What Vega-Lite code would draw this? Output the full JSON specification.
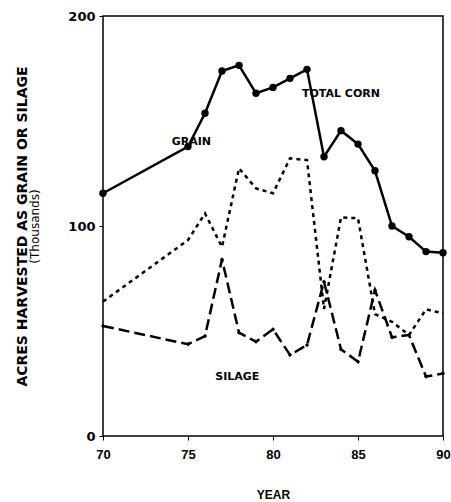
{
  "$schema": "https://vega.github.io/schema/vega-lite/v6.json",
  "autosize": "none",
  "width": 340,
  "height": 420,
  "padding": {"left": 103, "top": 16, "right": 8, "bottom": 66},
  "background": "white",
  "config": {
    "view": {"stroke": "black", "strokeWidth": 1.5},
    "font": "DejaVu Sans",
    "axis": {"grid": false, "domain": false, "tickColor": "black", "labelColor": "black", "titleColor": "black"}
  },
  "datasets": {
    "series": [
      {"year": 70, "value": 115.6, "series": "Total corn"},
      {"year": 75, "value": 137.8, "series": "Total corn"},
      {"year": 76, "value": 153.7, "series": "Total corn"},
      {"year": 77, "value": 173.8, "series": "Total corn"},
      {"year": 78, "value": 176.5, "series": "Total corn"},
      {"year": 79, "value": 163.2, "series": "Total corn"},
      {"year": 80, "value": 166.0, "series": "Total corn"},
      {"year": 81, "value": 170.3, "series": "Total corn"},
      {"year": 82, "value": 174.6, "series": "Total corn"},
      {"year": 83, "value": 133.0, "series": "Total corn"},
      {"year": 84, "value": 145.4, "series": "Total corn"},
      {"year": 85, "value": 139.0, "series": "Total corn"},
      {"year": 86, "value": 126.3, "series": "Total corn"},
      {"year": 87, "value": 100.0, "series": "Total corn"},
      {"year": 88, "value": 94.9, "series": "Total corn"},
      {"year": 89, "value": 87.8, "series": "Total corn"},
      {"year": 90, "value": 87.3, "series": "Total corn"},
      {"year": 70, "value": 64.0, "series": "Grain"},
      {"year": 75, "value": 93.3, "series": "Grain"},
      {"year": 76, "value": 106.0, "series": "Grain"},
      {"year": 77, "value": 90.0, "series": "Grain"},
      {"year": 78, "value": 127.5, "series": "Grain"},
      {"year": 79, "value": 117.9, "series": "Grain"},
      {"year": 80, "value": 115.6, "series": "Grain"},
      {"year": 81, "value": 132.2, "series": "Grain"},
      {"year": 82, "value": 131.4, "series": "Grain"},
      {"year": 83, "value": 60.5, "series": "Grain"},
      {"year": 84, "value": 104.1, "series": "Grain"},
      {"year": 85, "value": 103.7, "series": "Grain"},
      {"year": 86, "value": 58.0, "series": "Grain"},
      {"year": 87, "value": 54.4, "series": "Grain"},
      {"year": 88, "value": 48.1, "series": "Grain"},
      {"year": 89, "value": 60.3, "series": "Grain"},
      {"year": 90, "value": 58.4, "series": "Grain"},
      {"year": 70, "value": 52.4, "series": "Silage"},
      {"year": 75, "value": 43.7, "series": "Silage"},
      {"year": 76, "value": 47.6, "series": "Silage"},
      {"year": 77, "value": 84.1, "series": "Silage"},
      {"year": 78, "value": 49.2, "series": "Silage"},
      {"year": 79, "value": 44.9, "series": "Silage"},
      {"year": 80, "value": 50.8, "series": "Silage"},
      {"year": 81, "value": 38.6, "series": "Silage"},
      {"year": 82, "value": 43.3, "series": "Silage"},
      {"year": 83, "value": 73.5, "series": "Silage"},
      {"year": 84, "value": 41.3, "series": "Silage"},
      {"year": 85, "value": 35.4, "series": "Silage"},
      {"year": 86, "value": 69.5, "series": "Silage"},
      {"year": 87, "value": 47.0, "series": "Silage"},
      {"year": 88, "value": 48.1, "series": "Silage"},
      {"year": 89, "value": 28.3, "series": "Silage"},
      {"year": 90, "value": 29.8, "series": "Silage"}
    ],
    "labels": [
      {"year": 75.2, "value": 140, "text": "GRAIN"},
      {"year": 84.0, "value": 163, "text": "TOTAL CORN"},
      {"year": 77.9, "value": 28, "text": "SILAGE"}
    ]
  },
  "resolve": {"axis": {"y": "independent"}},
  "layer": [
    {
      "data": {"name": "series"},
      "transform": [{"filter": "datum.series === 'Grain'"}],
      "mark": {"type": "line", "color": "black", "strokeWidth": 2.5, "strokeDash": [4, 4]},
      "encoding": {
        "x": {"field": "year", "type": "quantitative", "scale": {"domain": [70, 90]},
          "axis": {"values": [70, 75, 80, 85, 90], "title": "YEAR", "labelFont": "Liberation Sans", "labelFontSize": 13, "labelFontWeight": "bold", "labelFlush": false, "labelPadding": 8, "tickSize": 4, "titleFont": "Liberation Sans", "titleFontSize": 12, "titleFontWeight": "bold", "titlePadding": 28}},
        "y": {"field": "value", "type": "quantitative", "scale": {"domain": [0, 200]},
          "axis": {"orient": "left", "values": [0, 100, 200], "title": "(Thousands)", "labelFont": "DejaVu Sans", "labelFontSize": 13, "labelFontWeight": "bold", "labelFlush": false, "labelPadding": 4, "tickSize": 4, "titleFont": "DejaVu Sans", "titleFontSize": 12, "titleFontWeight": "normal", "titlePadding": 26}}
      }
    },
    {
      "data": {"name": "series"},
      "transform": [{"filter": "datum.series === 'Silage'"}],
      "mark": {"type": "line", "color": "black", "strokeWidth": 2.5, "strokeDash": [11, 5], "point": {"shape": "diamond", "size": 18, "filled": true, "color": "black"}},
      "encoding": {
        "x": {"field": "year", "type": "quantitative"},
        "y": {"field": "value", "type": "quantitative",
          "axis": {"orient": "left", "labels": false, "ticks": false, "domain": false, "title": "ACRES HARVESTED AS GRAIN OR SILAGE", "titleFont": "DejaVu Sans", "titleFontSize": 14, "titleFontWeight": "bold", "titlePadding": 74}}
      }
    },
    {
      "data": {"name": "series"},
      "transform": [{"filter": "datum.series === 'Total corn'"}],
      "mark": {"type": "line", "color": "black", "strokeWidth": 2.5, "point": {"shape": "circle", "size": 55, "filled": true, "color": "black"}},
      "encoding": {
        "x": {"field": "year", "type": "quantitative"},
        "y": {"field": "value", "type": "quantitative", "axis": null}
      }
    },
    {
      "data": {"name": "labels"},
      "mark": {"type": "text", "font": "DejaVu Sans", "fontWeight": "bold", "fontSize": 11, "color": "black"},
      "encoding": {
        "x": {"field": "year", "type": "quantitative"},
        "y": {"field": "value", "type": "quantitative", "axis": null},
        "text": {"field": "text"}
      }
    }
  ]
}
